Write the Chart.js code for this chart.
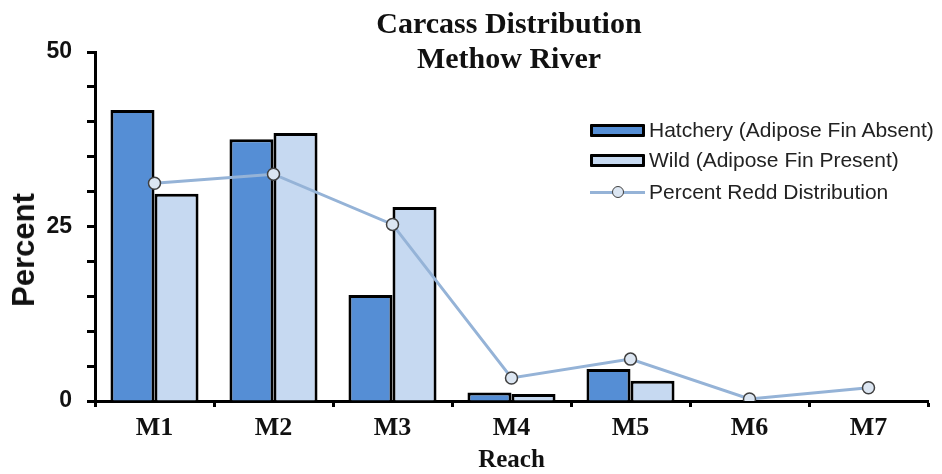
<!DOCTYPE html>
<html>
<head>
<meta charset="utf-8">
<script src="https://cdn.jsdelivr.net/npm/chart.js@4.4.1/dist/chart.umd.min.js"></script>
<style>
    html, body { margin: 0; padding: 0; background: #fff; }
    #wrap { position: relative; width: 942px; height: 474px; overflow: hidden; }
    #chart { position: absolute; left: 0; top: 0; }
    .title {
        position: absolute; left: 509px; transform: translateX(-50%);
        font: bold 30px "Liberation Serif", "Times New Roman", serif;
        color: #111; white-space: nowrap; line-height: 1;
    }
    .ytitle {
        position: absolute; left: 24px; top: 250px;
        transform: translate(-50%, -50%) rotate(-90deg);
        font: bold 31px "Liberation Sans", Arial, sans-serif;
        color: #111; white-space: nowrap;
    }
    .legend { position: absolute; left: 590px; top: 114px; font: 21px "Liberation Sans", Arial, sans-serif; color: #222; }
    .row { position: absolute; left: 0; height: 24px; display: flex; align-items: center; white-space: nowrap; }
    .box { width: 49px; height: 7px; border: 3px solid #000; margin-right: 4px; border-radius: 1px; }
    .ln { position: relative; width: 55px; height: 24px; margin-right: 4px; }
    .ln::before { content: ""; position: absolute; left: 0; right: 0; top: 11px; height: 3px; background: #95b3d7; }
    .ln::after { content: ""; position: absolute; left: 22px; top: 6px; width: 10px; height: 10px; border-radius: 50%; background: #dce6f2; border: 1.5px solid #404040; }
</style>
</head>
<body>
<div id="wrap">
    <canvas id="chart" width="942" height="474"></canvas>
    <div class="title" style="top: 8px;">Carcass Distribution</div>
    <div class="title" style="top: 43px;">Methow River</div>
    <div class="ytitle">Percent</div>
    <div class="legend">
        <div class="row" style="top: 4px;"><div class="box" style="background:#558ed5"></div>Hatchery (Adipose Fin Absent)</div>
        <div class="row" style="top: 34px;"><div class="box" style="background:#c6d9f1"></div>Wild (Adipose Fin Present)</div>
        <div class="row" style="top: 66px;"><div class="ln"></div>Percent Redd Distribution</div>
    </div>
</div>
<script>
// Reaches and percentages
const reaches = ["M1", "M2", "M3", "M4", "M5", "M6", "M7"];
const hatchery = [41.7, 37.5, 15.2, 1.2, 4.6, 0, 0];
const wild = [29.7, 38.4, 27.8, 1.0, 2.9, 0, 0];
const redd = [31.2, 32.5, 25.3, 3.3, 6.0, 0.3, 1.9];
const yTickLabels = [0, 25, 50];

const ctx = document.getElementById("chart").getContext("2d");

new Chart(ctx, {
    type: "bar",
    data: {
        labels: reaches,
        datasets: [
            {
                type: "line",
                label: "Percent Redd Distribution",
                data: redd,
                order: -1,
                borderColor: "#95b3d7",
                borderWidth: 3,
                pointRadius: 6,
                pointBackgroundColor: "#dce6f2",
                pointBorderColor: "#404040",
                pointBorderWidth: 1.5,
                tension: 0,
            },
            {
                label: "Hatchery (Adipose Fin Absent)",
                data: hatchery,
                backgroundColor: "#558ed5",
                borderColor: "#000",
                borderWidth: 3,
                categoryPercentage: 0.74,
                barPercentage: 1,
            },
            {
                label: "Wild (Adipose Fin Present)",
                data: wild,
                backgroundColor: "#c6d9f1",
                borderColor: "#000",
                borderWidth: 3,
                categoryPercentage: 0.74,
                barPercentage: 1,
            },
        ]
    },
    options: {
        responsive: false,
        animation: false,
        layout: { padding: { top: 52, right: 14, left: 0, bottom: 0 } },
        plugins: {
            legend: { display: false },
            title: { display: false },
            tooltip: { enabled: false },
        },
        scales: {
            x: {
                afterFit: (scale) => { scale.height = 73; },
                grid: {
                    offset: true,
                    drawOnChartArea: false,
                    drawTicks: true,
                    tickLength: 6,
                    tickWidth: 3,
                    tickColor: "#000",
                },
                border: { display: true, color: "#000", width: 3 },
                ticks: {
                    color: "#111",
                    padding: 6,
                    font: { family: "'Liberation Serif', 'Times New Roman', serif", size: 26, weight: "bold" },
                },
                title: {
                    display: true,
                    text: "Reach",
                    color: "#111",
                    padding: { top: 0, bottom: 0 },
                    font: { family: "'Liberation Serif', 'Times New Roman', serif", size: 25, weight: "bold", lineHeight: 1.05 },
                },
            },
            y: {
                min: 0,
                max: 50,
                afterFit: (scale) => { scale.width = 95; },
                grid: {
                    drawOnChartArea: false,
                    drawTicks: true,
                    tickLength: 8,
                    tickWidth: 3,
                    tickColor: "#000",
                },
                border: { display: true, color: "#000", width: 3 },
                ticks: {
                    stepSize: 5,
                    padding: 15,
                    color: "#111",
                    font: { family: "'Liberation Sans', Arial, sans-serif", size: 23, weight: "bold" },
                    callback: (v) => yTickLabels.includes(v) ? v : "",
                },
            },
        },
    },
});
</script>
</body>
</html>
